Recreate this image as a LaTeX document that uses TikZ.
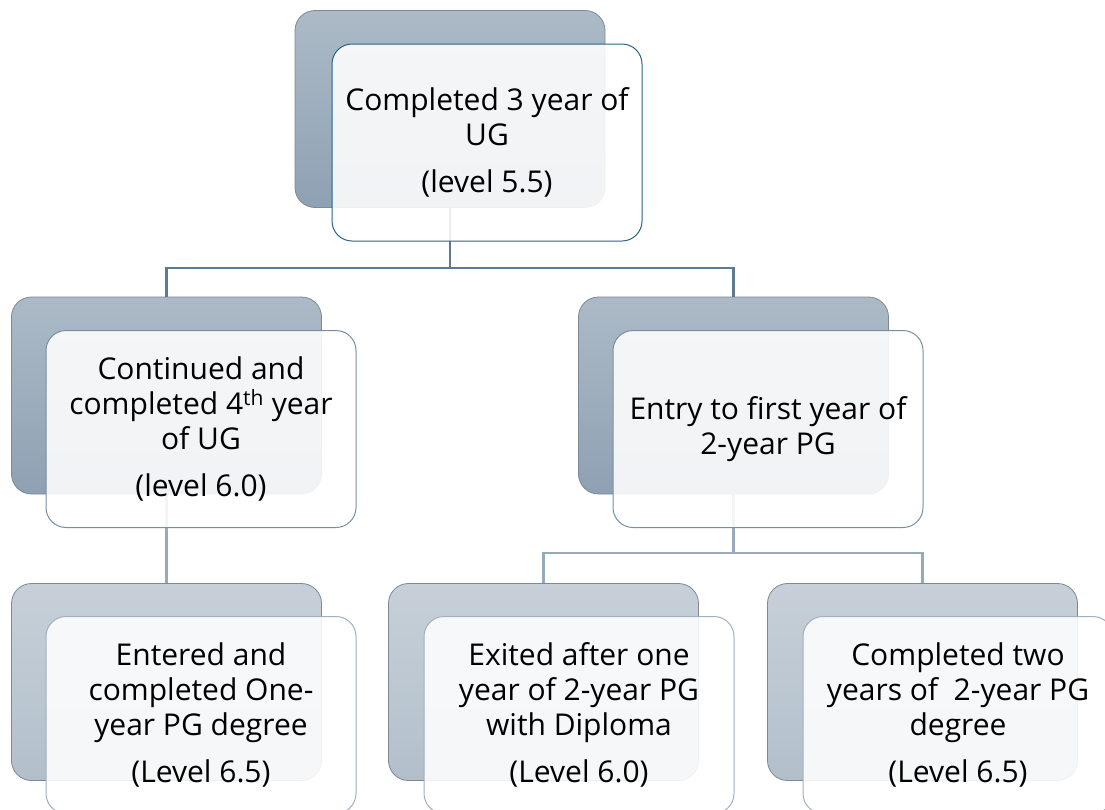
\documentclass[tikz,border=0pt]{standalone}
\usepackage{fontspec}
\setmainfont{Open Sans}
\definecolor{backtopA}{RGB}{172,186,199}
\definecolor{backbotA}{RGB}{142,161,179}
\definecolor{backtopB}{RGB}{199,208,216}
\definecolor{backbotB}{RGB}{178,191,203}
\definecolor{backedge}{RGB}{125,137,148}
\definecolor{edgeTop}{RGB}{40,100,135}
\definecolor{edgeMid}{RGB}{118,143,165}
\definecolor{edgeLow}{RGB}{160,176,192}
\definecolor{lineTop}{RGB}{92,122,146}
\definecolor{lineLow}{RGB}{152,170,185}
\tikzset{
  backbox/.style={rounded corners=20pt, minimum width=310pt, minimum height=197pt, draw=backedge, line width=0.8pt},
  backA/.style={backbox, top color=backtopA, bottom color=backbotA},
  backB/.style={backbox, top color=backtopB, bottom color=backbotB},
  frontbox/.style={rounded corners=20pt, minimum width=310pt, minimum height=197pt, fill=white, fill opacity=0.88, text opacity=1, line width=1pt, align=center, font=\fontsize{30}{35}\selectfont, inner sep=0pt},
  conn/.style={line width=2.2pt},
}
\begin{document}
\begin{tikzpicture}[x=1pt,y=-1pt]
\useasboundingbox (0,0) rectangle (1105,809);
\clip (0,0) rectangle (1105,809);
% back boxes
\node[backA] (tb) at (450,109) {};
\node[backA] (lb) at (166.5,395.5) {};
\node[backA] (rb) at (733.5,395.5) {};
\node[backB] (blb) at (166.5,682) {};
\node[backB] (bmb) at (543.5,682) {};
\node[backB] (brb) at (922.5,682) {};
% connectors
\coordinate (j1) at (450,268);
\coordinate (j2) at (733.5,553);
\draw[conn, lineTop] (tb.south) -- (j1) -| (lb.north);
\draw[conn, lineTop] (j1) -| (rb.north);
\draw[conn, lineLow] (lb.south) -- (blb.north);
\draw[conn, lineLow] (rb.south) -- (j2) -| (bmb.north);
\draw[conn, lineLow] (j2) -| (brb.north);
% front boxes
\node[frontbox, draw=edgeTop] (tf) at (487,142.5) {Completed 3 year of\\UG\\[12pt](level 5.5)};
\node[frontbox, draw=edgeMid] (lf) at (201,429) {Continued and\\completed 4\textsuperscript{th} year\\of UG\\[12pt](level 6.0)};
\node[frontbox, draw=edgeMid] (rf) at (768,429) {Entry to first year of\\2-year PG};
\node[frontbox, draw=edgeLow] (blf) at (201,715) {Entered and\\completed One-\\year PG degree\\[12pt](Level 6.5)};
\node[frontbox, draw=edgeLow] (bmf) at (579,715) {Exited after one\\year of 2-year PG\\with Diploma\\[12pt](Level 6.0)};
\node[frontbox, draw=edgeLow] (brf) at (958,715) {Completed two\\years of~ 2-year PG\\degree\\[12pt](Level 6.5)};
\end{tikzpicture}
\end{document}
